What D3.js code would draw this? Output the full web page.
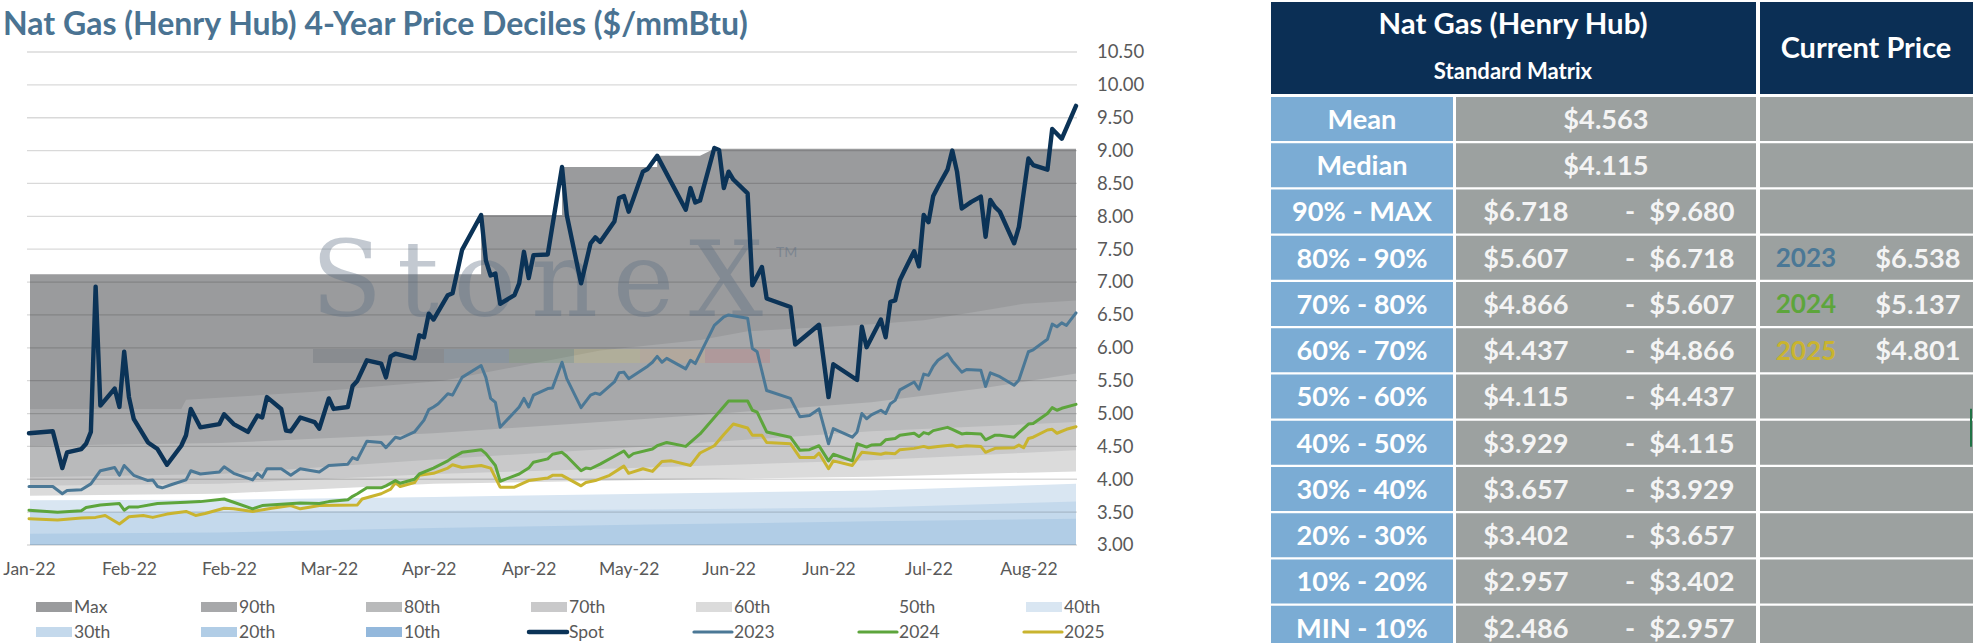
<!DOCTYPE html>
<html>
<head>
<meta charset="utf-8">
<script src="https://cdn.jsdelivr.net/npm/d3@7"></script>
<style>
  body { margin: 0; background: #fff; }
  svg text { font-family: Lato, "Open Sans", sans-serif; }
</style>
</head>
<body>
<svg id="chart" width="1973" height="643"></svg>
<script>
// ---- data (day = calendar days from the first point) ----
const xLabels = ['Jan-22','Feb-22','Feb-22','Mar-22','Apr-22','Apr-22','May-22','Jun-22','Jun-22','Jul-22','Aug-22']
const xLabelDays = [0,21,42,63,84,105,126,147,168,189,210]
const yTicks = [3,3.5,4,4.5,5,5.5,6,6.5,7,7.5,8,8.5,9,9.5,10,10.5]

const spot = [[0,4.70],[5,4.73],[7,4.17],[8,4.41],[11,4.46],[12,4.54],[13,4.72],[14,6.93],[15,5.12],[18,5.38],[19,5.10],[20,5.94],[21,5.25],[22,4.92],[25,4.56],[27,4.46],[29,4.22],[32,4.51],[33,4.67],[34,5.07],[36,4.79],[40,4.84],[41,4.99],[43,4.84],[46,4.72],[48,4.97],[49,4.94],[50,5.25],[53,5.07],[54,4.74],[55,4.73],[57,4.94],[60,4.87],[61,4.77],[63,5.23],[64,5.07],[67,5.10],[68,5.42],[69,5.50],[71,5.81],[74,5.76],[75,5.55],[76,5.87],[77,5.91],[81,5.84],[82,6.19],[83,6.16],[84,6.52],[85,6.43],[88,6.80],[89,6.83],[91,7.49],[95,8.02],[96,7.33],[97,7.10],[98,7.13],[99,6.67],[102,6.80],[103,6.98],[104,7.46],[105,7.06],[106,7.41],[109,7.42],[112,8.75],[113,8.02],[116,6.98],[118,7.59],[119,7.68],[120,7.61],[123,7.92],[124,8.28],[125,8.31],[126,8.07],[127,8.27],[129,8.68],[130,8.72],[132,8.92],[138,8.10],[139,8.43],[140,8.21],[141,8.24],[144,9.04],[145,9.01],[146,8.43],[147,8.68],[148,8.56],[151,8.35],[152,6.95],[154,7.23],[155,6.75],[160,6.62],[161,6.05],[166,6.35],[168,5.25],[169,5.75],[174,5.51],[175,6.32],[176,6.01],[179,6.43],[180,6.16],[181,6.70],[182,6.72],[183,7.03],[184,7.18],[186,7.47],[187,7.24],[188,8.02],[189,7.91],[190,8.31],[191,8.45],[193,8.71],[194,9.00],[195,8.68],[196,8.12],[198,8.22],[200,8.30],[201,7.69],[202,8.25],[203,8.14],[204,8.07],[207,7.59],[208,7.84],[210,8.88],[211,8.78],[214,8.71],[215,9.33],[217,9.18],[220,9.68]]

const y2023 = [[0,3.89],[5,3.89],[7,3.78],[8,3.83],[11,3.84],[13,3.93],[15,4.13],[18,4.18],[19,4.06],[20,4.21],[22,4.06],[25,3.98],[26,3.99],[27,3.89],[28,3.87],[30,3.92],[33,3.99],[34,4.13],[36,4.08],[40,4.11],[41,4.19],[43,4.09],[47,3.99],[48,4.09],[49,4.03],[50,4.16],[53,4.16],[55,4.06],[57,4.16],[61,4.11],[63,4.21],[67,4.23],[68,4.33],[69,4.30],[71,4.58],[74,4.56],[75,4.48],[77,4.64],[78,4.62],[81,4.72],[83,4.90],[84,5.06],[85,5.10],[86,5.15],[88,5.30],[89,5.28],[91,5.55],[95,5.73],[96,5.55],[97,5.23],[98,5.17],[99,4.79],[103,5.10],[104,5.23],[105,5.10],[106,5.28],[109,5.38],[110,5.39],[112,5.78],[113,5.53],[116,5.09],[118,5.28],[119,5.31],[120,5.29],[123,5.48],[124,5.62],[125,5.63],[126,5.53],[130,5.72],[131,5.78],[132,5.87],[133,5.78],[134,5.84],[138,5.68],[139,5.81],[140,5.76],[144,6.34],[146,6.47],[147,6.50],[151,6.45],[152,5.99],[153,5.94],[155,5.35],[160,5.23],[162,4.95],[164,4.97],[166,5.07],[168,4.54],[169,4.77],[173,4.64],[174,4.72],[175,5.00],[176,4.92],[177,4.98],[179,5.05],[180,5.00],[181,5.15],[182,5.20],[183,5.36],[186,5.48],[187,5.37],[188,5.60],[189,5.58],[190,5.72],[191,5.81],[193,5.91],[194,5.80],[196,5.63],[197,5.67],[200,5.66],[201,5.41],[202,5.62],[204,5.56],[207,5.43],[208,5.51],[210,5.94],[211,5.97],[214,6.13],[215,6.36],[216,6.32],[217,6.38],[218,6.34],[220,6.53]]

const y2024 = [[0,3.53],[6,3.50],[11,3.52],[12,3.57],[15,3.61],[19,3.63],[20,3.53],[21,3.58],[23,3.58],[27,3.63],[33,3.65],[36,3.66],[41,3.70],[43,3.65],[47,3.55],[49,3.60],[57,3.64],[61,3.63],[63,3.66],[67,3.69],[68,3.74],[69,3.78],[71,3.87],[74,3.87],[75,3.90],[77,3.98],[78,3.94],[81,4.00],[82,4.08],[85,4.17],[88,4.28],[89,4.33],[91,4.41],[95,4.45],[96,4.39],[98,4.21],[99,3.97],[103,4.08],[105,4.17],[106,4.26],[109,4.31],[110,4.38],[112,4.41],[113,4.35],[116,4.13],[117,4.17],[118,4.16],[120,4.23],[123,4.35],[125,4.43],[126,4.34],[127,4.39],[131,4.46],[132,4.51],[134,4.56],[138,4.50],[141,4.69],[144,4.94],[147,5.19],[151,5.19],[152,5.05],[153,5.02],[155,4.72],[160,4.64],[162,4.44],[164,4.45],[166,4.51],[168,4.28],[169,4.38],[173,4.28],[174,4.54],[176,4.49],[177,4.52],[179,4.53],[180,4.60],[182,4.62],[183,4.67],[186,4.70],[187,4.65],[188,4.71],[189,4.69],[190,4.74],[193,4.79],[194,4.76],[196,4.69],[197,4.70],[200,4.69],[201,4.60],[203,4.67],[204,4.67],[207,4.64],[208,4.71],[210,4.84],[211,4.85],[214,5.00],[215,5.09],[216,5.05],[217,5.08],[220,5.14]]

const y2025 = [[0,3.40],[6,3.38],[11,3.41],[14,3.42],[16,3.45],[19,3.32],[21,3.43],[24,3.45],[26,3.42],[29,3.47],[33,3.51],[35,3.45],[37,3.48],[41,3.56],[43,3.55],[47,3.51],[51,3.56],[55,3.60],[57,3.55],[61,3.60],[69,3.61],[70,3.70],[74,3.78],[76,3.85],[77,3.95],[78,3.89],[81,3.95],[82,4.06],[85,4.09],[88,4.17],[89,4.22],[91,4.18],[95,4.21],[97,4.17],[99,3.88],[102,3.88],[105,3.98],[109,4.02],[110,4.06],[112,4.06],[116,3.90],[117,3.95],[119,3.98],[122,4.06],[125,4.20],[126,4.09],[129,4.16],[131,4.12],[133,4.27],[135,4.28],[139,4.21],[141,4.40],[144,4.51],[146,4.68],[148,4.84],[151,4.78],[152,4.67],[154,4.67],[155,4.56],[160,4.54],[162,4.33],[165,4.33],[166,4.40],[168,4.16],[169,4.28],[173,4.21],[175,4.41],[179,4.38],[180,4.40],[182,4.39],[183,4.45],[186,4.47],[188,4.50],[189,4.48],[191,4.50],[194,4.52],[195,4.49],[197,4.51],[200,4.50],[201,4.41],[203,4.47],[207,4.48],[208,4.52],[209,4.48],[210,4.62],[211,4.64],[214,4.75],[215,4.76],[216,4.70],[218,4.76],[220,4.80]]

// 4-year percentile bands
const pMax = [[0,7.12],[95,7.12],[95,8.02],[112,8.02],[112,8.75],[132,8.75],[132,8.92],[141,8.92],[144,9.03],[220,9.03]]
const p90 = [[0,5.07],[32,5.07],[33,5.21],[60,5.33],[87,5.50],[120,5.96],[141,6.12],[151,6.25],[177,6.36],[188,6.42],[199,6.55],[209,6.67],[220,6.72]]
const p80 = [[0,4.51],[40,4.55],[85,4.70],[130,4.92],[177,5.17],[200,5.38],[220,5.61]]
const p70 = [[0,4.03],[40,4.08],[85,4.30],[130,4.50],[177,4.73],[220,4.87]]
const p60 = [[0,3.90],[40,3.93],[85,4.08],[130,4.18],[177,4.29],[220,4.44]]
const p50 = [[0,3.75],[40,3.78],[85,3.93],[130,3.99],[177,4.04],[220,4.12]]
const p40 = [[0,3.68],[40,3.69],[85,3.73],[130,3.78],[177,3.83],[220,3.93]]
const p30 = [[0,3.50],[85,3.52],[130,3.54],[177,3.57],[220,3.66]]
const p20 = [[0,3.17],[40,3.19],[85,3.26],[130,3.31],[177,3.36],[220,3.40]]
const p10 = [[0,2.72],[110,2.85],[220,2.96]]

const bandNames = ['Max','90th','80th','70th','60th','50th','40th','30th','20th','10th']
const bandData = [pMax,p90,p80,p70,p60,p50,p40,p30,p20,p10]
const lineNames = ['Spot','2023','2024','2025']
const lineData = [spot,y2023,y2024,y2025]

// table
const rowLabels = ['Mean','Median','90% - MAX','80% - 90%','70% - 80%','60% - 70%','50% - 60%','40% - 50%','30% - 40%','20% - 30%','10% - 20%','MIN - 10%']
const rowLow = ['$4.563','$4.115','$6.718','$5.607','$4.866','$4.437','$4.115','$3.929','$3.657','$3.402','$2.957','$2.486']
const rowHigh = [null,null,'$9.680','$6.718','$5.607','$4.866','$4.437','$4.115','$3.929','$3.657','$3.402','$2.957']
const curYears = ['2023','2024','2025']
const curPrices = ['$6.538','$5.137','$4.801']

// ---- styles ----
const bandColor = {Max:'#9a9b9d','90th':'#a7a8aa','80th':'#b9babb','70th':'#c9c9ca','60th':'#dbdbdb','50th':'#ffffff','40th':'#d9e6f2','30th':'#c4d9ec','20th':'#b1cde6','10th':'#93b8dc'}
const lineColor = {Spot:'#0b3357','2023':'#4b7896','2024':'#5da53c','2025':'#c9b42f'}
const lineWidth = {Spot:4.4,'2023':3,'2024':3,'2025':3}
const axisGrey = '#595959'
const tableFont = '"Open Sans", Lato, sans-serif'

const svg = d3.select('#chart')
const x = d3.scaleLinear().domain([0,220]).range([29,1076])
const y = d3.scaleLinear().domain([3,10.5]).range([545,52])

svg.append('clipPath').attr('id','plotClip')
  .append('rect').attr('x',30).attr('y',40).attr('width',1047).attr('height',y(3)-40)

// bands
const area = d3.area().x(d=>x(d[0])).y0(y(2.5)).y1(d=>y(d[1]))
svg.append('g').attr('clip-path','url(#plotClip)')
  .selectAll('path')
  .data(bandNames)
  .join('path')
  .attr('d',(d,i)=>area(bandData[i]))
  .attr('fill',d=>bandColor[d])

// gridlines
svg.append('g').selectAll('line')
  .data(yTicks)
  .join('line')
  .attr('x1',27).attr('x2',1077)
  .attr('y1',d=>y(d)).attr('y2',d=>y(d))
  .attr('stroke','#000').attr('stroke-opacity',0.15).attr('stroke-width',1.3)

// watermark
const wm = svg.append('g')
const wmColors = ['#47525e','#4d7aa0','#5a8a5a','#d8c85a','#e0a868','#d06060']
const wmEdges = [313,444,509,574,640,705,770]
wm.selectAll('rect').data(wmColors).join('rect')
  .attr('x',(d,i)=>wmEdges[i]).attr('width',(d,i)=>wmEdges[i+1]-wmEdges[i])
  .attr('y',349).attr('height',14)
  .attr('fill',d=>d).attr('opacity',0.2)
wm.append('text').text('StoneX')
  .attr('x',311).attr('y',316)
  .attr('textLength',452).attr('lengthAdjust','spacing')
  .style('font-family','"DejaVu Serif", "Liberation Serif", serif')
  .attr('font-size',104)
  .attr('fill','#5a6d82').attr('opacity',0.36)
wm.append('text').text('TM')
  .attr('x',776).attr('y',257)
  .attr('font-size',14)
  .attr('fill','#5a6d82').attr('opacity',0.45)

// lines
const line = d3.line().x(d=>x(d[0])).y(d=>y(d[1]))
svg.append('g').selectAll('path')
  .data(lineNames.slice().reverse())
  .join('path')
  .attr('d',d=>line(lineData[lineNames.indexOf(d)]))
  .attr('fill','none')
  .attr('stroke',d=>lineColor[d])
  .attr('stroke-width',d=>lineWidth[d])
  .attr('stroke-linejoin','round')
  .attr('stroke-linecap','round')

// axes
const xAxis = svg.append('g').attr('transform','translate(0,545)')
  .call(d3.axisBottom(x).tickValues(xLabelDays).tickFormat((d,i)=>xLabels[i]).tickSize(0).tickPadding(18))
const yAxis = svg.append('g').attr('transform','translate(1077,0)')
  .call(d3.axisRight(y).tickValues(yTicks).tickFormat(d3.format('.2f')).tickSize(0).tickPadding(20))
;[xAxis,yAxis].forEach(g=>{
  g.select('.domain').remove()
  g.selectAll('text').attr('fill',axisGrey).attr('font-size',17.5)
    .style('font-family','Lato, sans-serif')
})
yAxis.selectAll('text').attr('font-size',18.5)

// title
const title = svg.append('text')
  .text('Nat Gas (Henry Hub) 4-Year Price Deciles ($/mmBtu)')
  .attr('x',3).attr('y',35)
  .attr('font-size',25).attr('font-weight','bold')
  .attr('fill','#4a7392')
const tw = title.node().getComputedTextLength()
title.attr('font-size',25*745/tw)

// legend
const legendItems = bandNames.concat(lineNames)
const lg = svg.append('g').selectAll('g')
  .data(legendItems)
  .join('g')
  .attr('transform',(d,i)=>`translate(${36+165*(i%7)},${607+25*Math.floor(i/7)})`)
lg.filter(d=>bandColor[d]).append('rect')
  .attr('x',0).attr('y',-5).attr('width',36).attr('height',10)
  .attr('fill',d=>bandColor[d])
lg.filter(d=>lineColor[d]).append('line')
  .attr('x1',-2).attr('x2',36).attr('y1',0).attr('y2',0)
  .attr('stroke',d=>lineColor[d])
  .attr('stroke-width',d=>d==='Spot'?4.5:3.2)
  .attr('stroke-linecap','round')
lg.append('text').text(d=>d)
  .attr('x',38).attr('dy','0.35em')
  .attr('font-size',17.5).attr('fill',axisGrey)

// ---- table ----
// font size chosen so a sample string has the width seen in the picture
function fitSize(sample, weight, target){
  const t = svg.append('text').text(sample).style('font-family',tableFont)
    .attr('font-weight',weight).attr('font-size',20)
  const w = t.node().getComputedTextLength()
  t.remove()
  return 20*target/w
}
const rowSize = fitSize('90% - MAX',700,141)
const headSize = fitSize('Nat Gas (Henry Hub)',700,300)
const subSize = fitSize('Standard Matrix',700,180)
const curHeadSize = fitSize('Current Price',700,192)

const tb = svg.append('g').style('font-family',tableFont)
const navy = '#0b2f55', cellBlue = '#7bacd4', cellGrey = '#9ca1a0'
const rowTop = i=>97+46.25*i
tb.append('rect').attr('x',1271).attr('y',2).attr('width',485).attr('height',92).attr('fill',navy)
tb.append('rect').attr('x',1760).attr('y',2).attr('width',213).attr('height',92).attr('fill',navy)
tb.append('text').text('Nat Gas (Henry Hub)')
  .attr('x',1513).attr('y',34).attr('text-anchor','middle')
  .attr('font-size',headSize).attr('font-weight',700).attr('fill','#fff')
tb.append('text').text('Standard Matrix')
  .attr('x',1513).attr('y',79).attr('text-anchor','middle')
  .attr('font-size',subSize).attr('font-weight',700).attr('fill','#fff')
tb.append('text').text('Current Price')
  .attr('x',1866).attr('y',58).attr('text-anchor','middle')
  .attr('font-size',curHeadSize).attr('font-weight',700).attr('fill','#fff')

const rows = tb.selectAll('g.row')
  .data(rowLabels)
  .join('g').attr('class','row')
  .attr('transform',(d,i)=>`translate(0,${rowTop(i)})`)
rows.append('rect').attr('x',1271).attr('width',182).attr('height',44).attr('fill',cellBlue)
rows.append('rect').attr('x',1456).attr('width',300).attr('height',44).attr('fill',cellGrey)
rows.append('rect').attr('x',1760).attr('width',213).attr('height',44).attr('fill',cellGrey)
rows.append('text').text(d=>d)
  .attr('x',1362).attr('y',22).attr('dy','0.36em').attr('text-anchor','middle')
  .attr('font-size',rowSize).attr('font-weight',700).attr('fill','#fff')
rows.append('text').text((d,i)=>rowLow[i])
  .attr('x',(d,i)=>rowHigh[i]?1526:1606).attr('y',22).attr('dy','0.36em').attr('text-anchor','middle')
  .attr('font-size',rowSize).attr('font-weight',700).attr('fill','#f4f4f4')
rows.filter((d,i)=>rowHigh[i]).append('text').text('-')
  .attr('x',1630).attr('y',22).attr('dy','0.36em').attr('text-anchor','middle')
  .attr('font-size',rowSize).attr('font-weight',700).attr('fill','#f4f4f4')
rows.filter((d,i)=>rowHigh[i]).append('text').text((d,i)=>rowHigh[i+2])
  .attr('x',1692).attr('y',22).attr('dy','0.36em').attr('text-anchor','middle')
  .attr('font-size',rowSize).attr('font-weight',700).attr('fill','#f4f4f4')

const cur = tb.selectAll('g.cur')
  .data(curYears)
  .join('g').attr('class','cur')
  .attr('transform',(d,i)=>`translate(0,${rowTop(i+3)})`)
cur.append('text').text(d=>d)
  .attr('x',1806).attr('y',22).attr('dy','0.36em').attr('text-anchor','middle')
  .attr('font-size',rowSize*0.96).attr('font-weight',700).attr('fill',d=>lineColor[d])
cur.append('text').text((d,i)=>curPrices[i])
  .attr('x',1918).attr('y',22).attr('dy','0.36em').attr('text-anchor','middle')
  .attr('font-size',rowSize).attr('font-weight',700).attr('fill','#f4f4f4')

tb.append('line').attr('x1',1971).attr('x2',1971).attr('y1',rowTop(7)-12).attr('y2',rowTop(7)+26)
  .attr('stroke','#217346').attr('stroke-width',2)
</script>
</body>
</html>
